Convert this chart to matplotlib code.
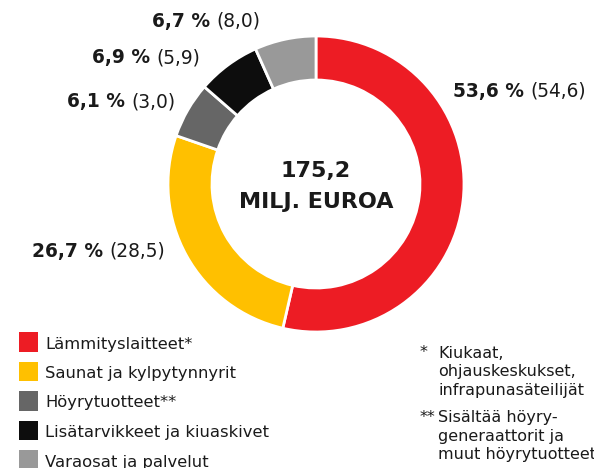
import matplotlib
matplotlib.use("Agg")
import matplotlib.pyplot as plt
from matplotlib.patches import Rectangle

categories = ["Lämmityslaitteet*", "Saunat ja kylpytynnyrit", "Höyrytuotteet**",
              "Lisätarvikkeet ja kiuaskivet", "Varaosat ja palvelut"]
shares = [53.6, 26.7, 6.1, 6.9, 6.7]
previous = [54.6, 28.5, 3.0, 5.9, 8.0]
colors = ["#ED1C24", "#FFC000", "#666666", "#0D0D0D", "#999999"]
center_lines = ["175,2", "MILJ. EUROA"]
note_marks = ["*", "**"]
note_lines = [["Kiukaat,", "ohjauskeskukset,", "infrapunasäteilijät"],
              ["Sisältää höyry-", "generaattorit ja", "muut höyrytuotteet"]]

W, H = 594, 468
TXT = '#1a1a1a'
plt.rcParams['font.family'] = ['DejaVu Sans']
fig = plt.figure(figsize=(W / 100, H / 100), dpi=100)
ax = fig.add_axes([0, 0, 1, 1])

cx, cy, R = 316, H - 184, 148
ax.pie(shares, colors=colors, startangle=90, counterclock=False,
       center=(cx, cy), radius=R, frame=True,
       wedgeprops=dict(width=44, edgecolor='white', linewidth=2))
ax.set_xlim(0, W)
ax.set_ylim(0, H)
ax.set_aspect('equal')
ax.axis('off')

for line, yb in zip(center_lines, [177, 208]):
    ax.text(cx, H - yb, line, ha='center', va='baseline', fontsize=16,
            fontweight='bold', color=TXT)

def fmt(v):
    return f"{v:.1f}".replace(".", ",")

label_pos = [(453, 96.7), (32, 256.7), (67, 107), (92, 63), (152, 26.7)]
for (x, y), s, p in zip(label_pos, shares, previous):
    t = ax.text(x, H - y, fmt(s) + " %", ha='left', va='baseline', fontsize=13.4,
                fontweight='bold', color=TXT)
    ax.annotate("(" + fmt(p) + ")", xy=(1, 0), xycoords=t, xytext=(4.5, 0),
                textcoords='offset points', ha='left', va='bottom',
                fontsize=13.4, color=TXT)

# legend
for i, (c, name) in enumerate(zip(colors, categories)):
    yc = 342 + i * 29.5
    ax.add_patch(Rectangle((19, H - yc - 9.8), 19, 19.6, facecolor=c, edgecolor='none'))
    ax.text(45, H - (yc + 6.5), name, ha='left', va='baseline', fontsize=11.8,
            color=TXT)

# footnotes
note_base = [357.5, 422]
for mark, lines, yb in zip(note_marks, note_lines, note_base):
    ax.text(420, H - yb, mark, ha='left', va='baseline', fontsize=11.5, color=TXT)
    for j, ln in enumerate(lines):
        ax.text(438, H - (yb + j * 18.5), ln, ha='left', va='baseline',
                fontsize=11.5, color=TXT)

fig.savefig("out.png", dpi=100)
